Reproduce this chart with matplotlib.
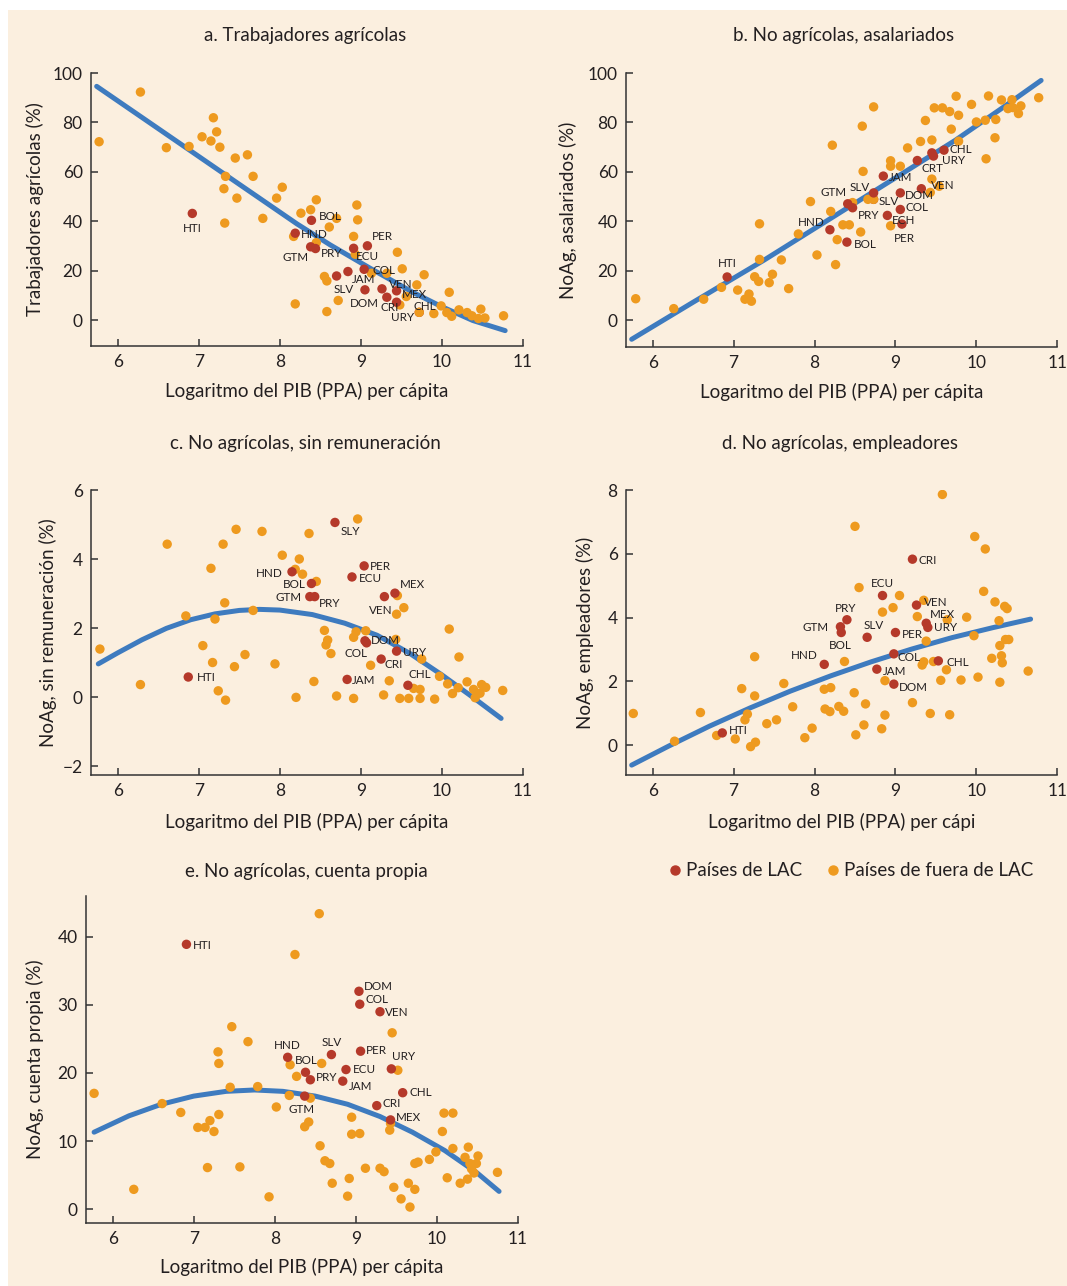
import matplotlib
matplotlib.use("Agg")
import matplotlib.pyplot as plt
from matplotlib.lines import Line2D
from matplotlib.patches import Rectangle

plt.rcParams['font.family'] = ['Lato', 'DejaVu Sans']
plt.rcParams['axes.unicode_minus'] = True

W, H = 1067, 1286
BG = '#FBEFDF'
ORANGE = '#EE9A1F'
RED = '#B5392A'
BLUE = '#3E7BBF'
INK = '#231F20'
SPINE = '#333333'

# ---------------- Panel a: Trabajadores agrícolas ----------------
a_oth_x = [5.77, 6.28, 6.60, 6.88, 7.04, 7.15, 7.18, 7.22, 7.26, 7.33, 7.31, 7.32, 7.45, 7.47, 7.60, 7.67,
           7.79, 7.96, 8.03, 8.17, 8.26, 8.38, 8.45, 8.45, 8.61, 8.70, 8.91, 8.95, 8.96, 8.93, 8.55, 8.58,
           8.19, 8.58, 8.72, 9.13, 9.32, 9.45, 9.51, 9.69, 9.78, 9.56, 9.48, 9.72, 9.90, 9.99, 10.09, 10.06,
           10.12, 10.21, 10.31, 10.37, 10.45, 10.48, 10.53, 10.76]
a_oth_y = [72.2, 92.3, 69.8, 70.3, 74.2, 72.5, 81.9, 76.2, 70.0, 58.2, 53.2, 39.3, 65.6, 49.4, 66.9, 58.2,
           41.2, 49.4, 53.8, 33.9, 43.3, 44.7, 48.7, 31.4, 37.7, 41.2, 33.9, 46.6, 40.6, 26.7, 17.7, 15.9,
           6.6, 3.5, 8.0, 19.0, 19.0, 27.5, 20.8, 14.3, 18.4, 9.6, 6.2, 3.2, 2.7, 5.8, 11.3, 3.1,
           1.6, 4.2, 3.1, 1.8, 0.7, 4.5, 0.9, 1.8]
a_lac_code = ['HTI', 'BOL', 'HND', 'GTM', 'PRY', 'ECU', 'PER', 'COL', 'JAM', 'SLV', 'DOM', 'VEN', 'MEX', 'CRI', 'URY', 'CHL']
a_lac_x = [6.92, 8.39, 8.19, 8.38, 8.44, 8.91, 9.08, 9.04, 8.84, 8.70, 9.05, 9.26, 9.44, 9.32, 9.44, 9.72]
a_lac_y = [43.2, 40.4, 35.2, 29.7, 29.0, 29.1, 30.1, 20.6, 19.7, 17.9, 12.3, 12.7, 11.9, 9.3, 7.3, 3.2]
a_lac_under = [False] * 15 + [True]
a_lab_dx = [0, 19, 19, -15, 16, 14, 15, 20, 16, 7, -1, 19, 18, 3, 6, 6]
a_lab_dy = [-15, 4, -1, -11, -5, -8, 9, -1, -8, -14, -14, 4, -4, -10, -15, 6]
a_fit_x = [5.74, 6.5, 7.33, 8.21, 8.62, 9.11, 9.64, 9.99, 10.38, 10.78]
a_fit_y = [94.6, 77.5, 58.8, 39.0, 30.5, 21.1, 11.3, 5.6, -0.1, -4.2]

# ---------------- Panel b: No agrícolas, asalariados ----------------
b_oth_x = [5.79, 6.26, 6.63, 6.85, 7.05, 7.14, 7.19, 7.22, 7.26, 7.31, 7.32, 7.32, 7.44, 7.48, 7.59, 7.68,
           7.80, 7.95, 8.03, 8.20, 8.22, 8.26, 8.28, 8.35, 8.43, 8.47, 8.57, 8.59, 8.60, 8.66, 8.73, 8.73,
           8.94, 8.94, 8.94, 9.06, 9.15, 9.31, 9.37, 9.45, 9.45, 9.48, 9.43, 9.54, 9.58, 9.67, 9.69, 9.75,
           9.78, 9.78, 9.94, 10.00, 10.11, 10.12, 10.15, 10.23, 10.24, 10.31, 10.39, 10.44, 10.45, 10.52,
           10.55, 10.77]
b_oth_y = [8.7, 4.7, 8.5, 13.3, 12.2, 8.5, 10.6, 7.7, 17.6, 15.7, 24.6, 39.0, 15.2, 18.6, 24.4, 12.8,
           34.9, 48.0, 26.4, 44.0, 70.8, 22.5, 32.6, 38.6, 38.6, 47.6, 35.7, 78.5, 60.2, 48.9, 48.9, 86.3,
           64.5, 62.3, 38.2, 62.3, 69.7, 72.3, 80.8, 72.9, 57.1, 85.9, 51.7, 54.2, 85.9, 84.4, 77.3, 90.6,
           82.9, 72.4, 87.3, 80.2, 80.9, 65.3, 90.7, 73.8, 81.2, 89.1, 85.6, 89.2, 86.0, 83.6,
           86.7, 90.0]
b_lac_code = ['HTI', 'HND', 'BOL', 'GTM', 'PRY', 'SLV', 'SLV', 'JAM', 'DOM', 'COL', 'ECH', 'PER', 'CRT', 'VEN', '', 'URY', 'CHL']
b_lac_x = [6.92, 8.19, 8.40, 8.41, 8.47, 8.73, 8.73, 8.85, 9.06, 9.06, 8.90, 9.08, 9.27, 9.32, 9.45, 9.47, 9.60]
b_lac_y = [17.5, 36.6, 31.6, 47.1, 45.5, 51.5, 48.9, 58.3, 51.5, 44.8, 42.4, 38.9, 64.6, 53.2, 67.7, 66.4, 68.8]
b_lac_under = [False] * 6 + [True] + [False] * 10
b_lab_dx = [0, -19, 18, -14, 16, -14, 15, 17, 19, 17, 16, 3, 15, 21, 0, 20, 17]
b_lab_dy = [13, 7, -2, 11, -8, 5, -2, -1, -3, 2, -5, -14, -8, 3, 0, -4, 1]
b_fit_x = [5.74, 6.5, 7.38, 8.0, 9.0, 9.74, 10.3, 10.8]
b_fit_y = [-7.7, 7.3, 24.4, 37.1, 57.6, 72.8, 85.4, 97.0]

# ---------------- Panel c: No agrícolas, sin remuneración ----------------
c_oth_x = [5.78, 6.28, 6.61, 6.84, 7.05, 7.15, 7.17, 7.20, 7.24, 7.30, 7.32, 7.33, 7.44, 7.46, 7.57, 7.67,
           7.78, 7.94, 8.03, 8.19, 8.20, 8.24, 8.28, 8.36, 8.42, 8.45, 8.55, 8.59, 8.57, 8.63, 8.70, 8.91,
           8.91, 8.94, 8.96, 9.06, 9.12, 9.28, 9.35, 9.43, 9.45, 9.44, 9.53, 9.48, 9.59, 9.65, 9.73, 9.73,
           9.75, 9.91, 9.97, 10.07, 10.09, 10.13, 10.20, 10.21, 10.31, 10.39, 10.41, 10.47, 10.49, 10.54,
           10.75]
c_oth_y = [1.39, 0.36, 4.43, 2.35, 1.49, 3.73, 1.00, 2.26, 0.18, 4.43, 2.73, -0.09, 0.88, 4.86, 1.23, 2.51,
           4.80, 0.96, 4.11, 3.70, -0.01, 4.00, 3.56, 4.74, 0.45, 3.35, 1.93, 1.65, 1.51, 1.26, 0.03, -0.04,
           1.73, 1.89, 5.16, 1.92, 0.92, 0.06, 0.47, 1.67, 2.94, 2.40, 2.59, -0.04, -0.04, 0.25, 0.22, -0.04,
           1.10, -0.06, 0.60, 0.38, 1.97, 0.10, 0.27, 1.16, 0.44, 0.22, -0.02, 0.11, 0.36, 0.28,
           0.19]
c_lac_code = ['HTI', 'SLY', 'HND', 'BOL', 'GTM', 'PRY', 'PER', 'ECU', 'MEX', 'VEN', 'DOM', 'COL', 'URY', 'CRI', 'JAM', 'CHL']
c_lac_x = [6.87, 8.68, 8.15, 8.39, 8.37, 8.43, 9.04, 8.89, 9.42, 9.29, 9.05, 9.07, 9.44, 9.25, 8.83, 9.58]
c_lac_y = [0.58, 5.06, 3.63, 3.29, 2.91, 2.91, 3.80, 3.48, 3.01, 2.91, 1.63, 1.57, 1.33, 1.10, 0.51, 0.34]
c_lac_under = [False] * 16
c_lab_dx = [18, 15, -23, -17, -21, 15, 16, 18, 17, -4, 20, -11, 18, 13, 17, 12]
c_lab_dy = [0, -9, -2, -1, -1, -7, -1, -2, 9, -14, 0, -11, -1, -5, -1, 11]
c_fit_x = [5.76, 6.0, 6.3, 6.6, 6.9, 7.2, 7.5, 7.75, 8.0, 8.4, 8.8, 9.2, 9.6, 10.0, 10.4, 10.73]
c_fit_y = [0.96, 1.28, 1.66, 1.99, 2.24, 2.41, 2.51, 2.54, 2.52, 2.39, 2.14, 1.79, 1.27, 0.64, -0.04, -0.62]

# ---------------- Panel d: No agrícolas, empleadores ----------------
d_oth_x = [5.76, 6.27, 6.59, 6.79, 7.02, 7.10, 7.14, 7.17, 7.21, 7.26, 7.26, 7.27, 7.41, 7.53, 7.62, 7.73,
           7.88, 7.97, 8.12, 8.13, 8.19, 8.20, 8.30, 8.36, 8.37, 8.49, 8.50, 8.51, 8.55, 8.61, 8.63, 8.83,
           8.84, 8.87, 8.87, 8.97, 9.05, 9.21, 9.27, 9.33, 9.35, 9.35, 9.38, 9.43, 9.47, 9.56, 9.58, 9.64,
           9.63, 9.67, 9.81, 9.88, 9.97, 9.98, 10.02, 10.09, 10.11, 10.19, 10.23, 10.28, 10.29, 10.29,
           10.31, 10.32, 10.35, 10.38, 10.36, 10.40, 10.64]
d_oth_y = [0.99, 0.12, 1.02, 0.30, 0.19, 1.77, 0.79, 0.97, -0.05, 1.54, 2.77, 0.09, 0.67, 0.79, 1.93, 1.20,
           0.23, 0.53, 1.75, 1.13, 1.05, 1.80, 1.21, 1.06, 2.62, 1.64, 6.86, 0.32, 4.94, 0.63, 1.29, 0.51,
           4.17, 2.02, 0.94, 4.31, 4.69, 1.33, 4.03, 2.51, 4.54, 2.61, 3.26, 0.99, 2.62, 2.03, 7.86, 3.93,
           2.36, 0.95, 2.04, 4.01, 3.43, 6.54, 2.13, 4.82, 6.15, 2.72, 4.49, 3.90, 3.12, 1.97,
           2.80, 2.58, 4.35, 4.28, 3.31, 3.31, 2.32]
d_lac_code = ['HTI', 'HND', 'GTM', 'BOL', 'PRY', 'SLV', 'PER', 'ECU', 'CRI', 'VEN', 'MEX', 'URY', 'COL', 'JAM', 'DOM', 'CHL']
d_lac_x = [6.86, 8.12, 8.32, 8.33, 8.40, 8.65, 9.00, 8.84, 9.21, 9.26, 9.38, 9.40, 8.98, 8.77, 8.98, 9.53]
d_lac_y = [0.38, 2.53, 3.71, 3.53, 3.93, 3.38, 3.53, 4.69, 5.83, 4.39, 3.82, 3.69, 2.86, 2.38, 1.91, 2.64]
d_lac_under = [False] * 16
d_lab_dx = [16, -20, -25, -1, -1, 7, 17, 0, 15, 19, 16, 18, 15, 18, 20, 19]
d_lab_dy = [2, 9, -1, -13, 11, 12, -2, 12, -1, 3, 9, 0, -4, -2, -3, -2]
d_fit_x = [5.74, 6.2, 6.7, 7.2, 7.7, 8.2, 8.7, 9.2, 9.7, 10.2, 10.67]
d_fit_y = [-0.63, -0.03, 0.59, 1.16, 1.69, 2.17, 2.61, 3.01, 3.37, 3.68, 3.95]

# ---------------- Panel e: No agrícolas, cuenta propia ----------------
e_oth_x = [5.77, 6.26, 6.61, 6.84, 7.05, 7.14, 7.17, 7.20, 7.25, 7.30, 7.31, 7.31, 7.45, 7.47, 7.57, 7.67,
           7.79, 7.93, 8.02, 8.18, 8.19, 8.25, 8.27, 8.37, 8.42, 8.44, 8.55, 8.56, 8.58, 8.62, 8.68, 8.71,
           8.90, 8.92, 8.95, 8.95, 9.05, 9.12, 9.30, 9.35, 9.42, 9.43, 9.45, 9.47, 9.52, 9.56, 9.65, 9.67,
           9.73, 9.73, 9.77, 9.91, 9.99, 10.07, 10.09, 10.13, 10.20, 10.20, 10.29, 10.35, 10.39, 10.38,
           10.41, 10.43, 10.46, 10.49, 10.51, 10.75]
e_oth_y = [17.0, 2.9, 15.5, 14.2, 12.0, 12.0, 6.1, 13.0, 11.4, 23.1, 21.4, 13.9, 17.9, 26.8, 6.2, 24.6,
           18.0, 1.8, 15.0, 16.7, 21.2, 37.4, 19.5, 12.1, 12.8, 16.3, 43.4, 9.3, 21.4, 7.1, 6.7, 3.8,
           1.9, 4.5, 13.5, 11.0, 11.1, 6.0, 6.0, 5.5, 11.6, 12.6, 25.9, 3.2, 20.4, 1.5, 3.8, 0.3,
           2.9, 6.7, 6.9, 7.3, 8.4, 11.4, 14.1, 4.6, 8.9, 14.1, 3.8, 7.6, 9.1, 4.4,
           6.7, 5.9, 5.3, 6.7, 7.8, 5.4]
e_lac_code = ['HTI', 'DOM', 'COL', 'VEN', 'HND', 'SLV', 'PER', 'BOL', 'URY', 'ECU', 'PRY', 'JAM', 'GTM', 'CHL', 'CRI', 'MEX']
e_lac_x = [6.91, 9.04, 9.05, 9.30, 8.16, 8.70, 9.06, 8.38, 9.44, 8.88, 8.44, 8.84, 8.37, 9.58, 9.26, 9.43]
e_lac_y = [38.9, 32.0, 30.1, 29.0, 22.3, 22.7, 23.2, 20.1, 20.6, 20.5, 19.0, 18.8, 16.6, 17.1, 15.2, 13.1]
e_lac_under = [False] * 16
e_lab_dx = [16, 19, 17, 17, 0, 0, 16, 1, 12, 18, 16, 18, -3, 18, 15, 18]
e_lab_dy = [-1, 5, 5, -1, 12, 12, 1, 12, 12, 0, 2, -5, -13, 0, 2, 2]
e_fit_x = [5.77, 6.2, 6.6, 7.0, 7.4, 7.75, 8.1, 8.5, 8.9, 9.3, 9.7, 10.1, 10.5, 10.77]
e_fit_y = [11.3, 13.7, 15.4, 16.6, 17.3, 17.5, 17.3, 16.6, 15.4, 13.6, 11.3, 8.6, 5.3, 2.6]

x_ticks = [6, 7, 8, 9, 10, 11]
xlabel = 'Logaritmo del PIB (PPA) per cápita'

panels = [
    dict(rect=(91, 73, 523, 345.7), ylim=(-10.3, 100), yticks=[0, 20, 40, 60, 80, 100],
         title='a. Trabajadores agrícolas', title_xy=(305, 35), ylabel='Trabajadores agrícolas (%)',
         ylab_x=35, xlab_y=391, xlabel=xlabel,
         ox=a_oth_x, oy=a_oth_y, code=a_lac_code, lx=a_lac_x, ly=a_lac_y, under=a_lac_under,
         dx=a_lab_dx, dy=a_lab_dy, fx=a_fit_x, fy=a_fit_y),
    dict(rect=(626, 73, 1057.3, 346.7), ylim=(-10.7, 100), yticks=[0, 20, 40, 60, 80, 100],
         title='b. No agrícolas, asalariados', title_xy=(844, 35), ylabel='NoAg, asalariados (%)',
         ylab_x=568, xlab_y=392, xlabel=xlabel,
         ox=b_oth_x, oy=b_oth_y, code=b_lac_code, lx=b_lac_x, ly=b_lac_y, under=b_lac_under,
         dx=b_lab_dx, dy=b_lab_dy, fx=b_fit_x, fy=b_fit_y),
    dict(rect=(91, 490, 523, 775), ylim=(-2.26, 6), yticks=[-2, 0, 2, 4, 6],
         title='c. No agrícolas, sin remuneración', title_xy=(305, 443), ylabel='NoAg, sin remuneración (%)',
         ylab_x=48, xlab_y=822, xlabel=xlabel,
         ox=c_oth_x, oy=c_oth_y, code=c_lac_code, lx=c_lac_x, ly=c_lac_y, under=c_lac_under,
         dx=c_lab_dx, dy=c_lab_dy, fx=c_fit_x, fy=c_fit_y),
    dict(rect=(626, 490, 1057.3, 775), ylim=(-0.94, 8), yticks=[0, 2, 4, 6, 8],
         title='d. No agrícolas, empleadores', title_xy=(840, 443), ylabel='NoAg, empleadores (%)',
         ylab_x=585, xlab_y=822, xlabel='Logaritmo del PIB (PPA) per cápi',
         ox=d_oth_x, oy=d_oth_y, code=d_lac_code, lx=d_lac_x, ly=d_lac_y, under=d_lac_under,
         dx=d_lab_dx, dy=d_lab_dy, fx=d_fit_x, fy=d_fit_y),
    dict(rect=(86, 896, 517.7, 1222.7), ylim=(-2.0, 46), yticks=[0, 10, 20, 30, 40],
         title='e. No agrícolas, cuenta propia', title_xy=(306, 871), ylabel='NoAg, cuenta propia (%)',
         ylab_x=35, xlab_y=1267, xlabel=xlabel,
         ox=e_oth_x, oy=e_oth_y, code=e_lac_code, lx=e_lac_x, ly=e_lac_y, under=e_lac_under,
         dx=e_lab_dx, dy=e_lab_dy, fx=e_fit_x, fy=e_fit_y),
]

fig = plt.figure(figsize=(W / 100, H / 100), dpi=100)
fig.patch.set_facecolor('white')
fig.add_artist(Rectangle((8 / W, 0), 1 - 8 / W, 1 - 10 / H, transform=fig.transFigure,
                         facecolor=BG, edgecolor='none', zorder=0))

FS = 13.5
for p in panels:
    x0, y0, x1, y1 = p['rect']
    ax = fig.add_axes([x0 / W, 1 - y1 / H, (x1 - x0) / W, (y1 - y0) / H])
    ax.set_facecolor('none')
    ax.set_xlim(5.67, 11.0)
    ax.set_ylim(*p['ylim'])
    ax.set_xticks(x_ticks)
    ax.set_yticks(p['yticks'])
    for s in ['top', 'right']:
        ax.spines[s].set_visible(False)
    for s in ['left', 'bottom']:
        ax.spines[s].set_color(SPINE)
        ax.spines[s].set_linewidth(1.1)
    ax.tick_params(direction='in', length=5, width=1.1, color=SPINE, labelsize=12.5,
                   labelcolor=INK, pad=6)

    ax.plot(p['fx'], p['fy'], color=BLUE, lw=3.6, solid_capstyle='round',
            solid_joinstyle='round', zorder=1.5)

    ux = [x for x, u in zip(p['lx'], p['under']) if u]
    uy = [y for y, u in zip(p['ly'], p['under']) if u]
    vx = [x for x, u in zip(p['lx'], p['under']) if not u]
    vy = [y for y, u in zip(p['ly'], p['under']) if not u]
    ax.scatter(ux, uy, s=46, color=RED, edgecolors='none', zorder=2)
    ax.scatter(p['ox'], p['oy'], s=46, color=ORANGE, edgecolors='none', zorder=3)
    ax.scatter(vx, vy, s=46, color=RED, edgecolors='none', zorder=4)

    for c, x, y, dx, dy in zip(p['code'], p['lx'], p['ly'], p['dx'], p['dy']):
        if c:
            ax.annotate(c, (x, y), xytext=(dx, dy), textcoords='offset pixels',
                        ha='center', va='center', fontsize=8.4, color=INK, zorder=5)

    ax.set_xlabel(p['xlabel'], fontsize=FS, color=INK, va='center')
    ax.xaxis.set_label_coords(0.5, (y1 - p['xlab_y']) / (y1 - y0))
    ax.set_ylabel(p['ylabel'], fontsize=FS, color=INK, va='center')
    ax.yaxis.set_label_coords((p['ylab_x'] - x0) / (x1 - x0), 0.5)

    tx, ty = p['title_xy']
    fig.text(tx / W, 1 - ty / H, p['title'], ha='center', va='center', fontsize=FS, color=INK)

# legend
fig.add_artist(Line2D([675 / W], [1 - 870 / H], marker='o', color=RED, markersize=6.5,
                      linestyle='none', transform=fig.transFigure))
fig.text(686 / W, 1 - 870 / H, 'Países de LAC', ha='left', va='center', fontsize=FS, color=INK)
fig.add_artist(Line2D([833 / W], [1 - 870 / H], marker='o', color=ORANGE, markersize=6.5,
                      linestyle='none', transform=fig.transFigure))
fig.text(844 / W, 1 - 870 / H, 'Países de fuera de LAC', ha='left', va='center', fontsize=FS, color=INK)

fig.savefig('out.png', dpi=100, facecolor=fig.get_facecolor())
